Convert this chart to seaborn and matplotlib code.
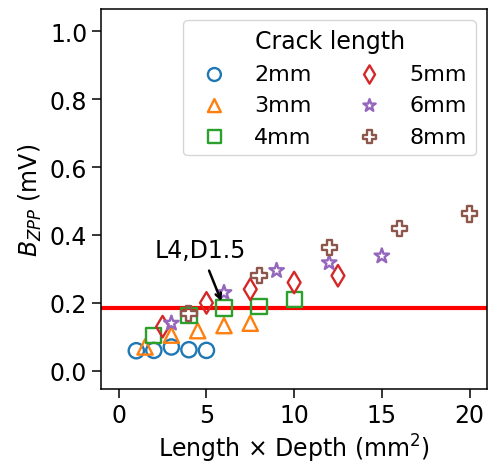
import numpy as np
import pandas as pd
import matplotlib
matplotlib.use("Agg")
import matplotlib.pyplot as plt
import seaborn as sns

# crack lengths and measured B_ZPP values (depths 0.5, 1.0, 1.5, 2.0, 2.5 mm)
labels = ['2mm', '3mm', '4mm', '5mm', '6mm', '8mm']
lengths = [2, 3, 4, 5, 6, 8]
depths = [0.5, 1.0, 1.5, 2.0, 2.5]
bzpp_2mm = [0.059, 0.060, 0.070, 0.062, 0.060]
bzpp_3mm = [0.070, 0.105, 0.118, 0.133, 0.140]
bzpp_4mm = [0.105, 0.162, 0.185, 0.190, 0.210]
bzpp_5mm = [0.130, 0.200, 0.240, 0.260, 0.280]
bzpp_6mm = [0.140, 0.230, 0.295, 0.318, 0.338]
bzpp_8mm = [0.168, 0.280, 0.362, 0.420, 0.462]
threshold = 0.185

markers = ['o', '^', 's', 'd', '*', 'P']
colors = sns.color_palette('tab10', 6)

all_vals = [bzpp_2mm, bzpp_3mm, bzpp_4mm, bzpp_5mm, bzpp_6mm, bzpp_8mm]
rows = []
for lab, L, vals in zip(labels, lengths, all_vals):
    for d, v in zip(depths, vals):
        rows.append({'crack': lab, 'LD': L * d, 'B': v})
df = pd.DataFrame(rows)

plt.rcParams['axes.linewidth'] = 1.1
fig = plt.figure(figsize=(4.89, 4.64), dpi=100)
ax = fig.add_axes([0.207, 0.16, 0.789, 0.818])

for lab, m, c in zip(labels, markers, colors):
    sub = df[df['crack'] == lab]
    sns.scatterplot(data=sub, x='LD', y='B', marker=m, s=120, fc='none',
                    ec=c, linewidth=1.7, label=lab, ax=ax)

ax.axhline(threshold, color='red', lw=3, zorder=0)

# annotation for the L4, D1.5 case
ax.text(2.05, 0.335, 'L4,D1.5', fontsize=17)
ax.annotate('', xy=(5.85, 0.205), xytext=(5.15, 0.295),
            arrowprops=dict(arrowstyle='->', color='black', lw=1.8,
                            shrinkA=0, shrinkB=0))

ax.set_xlim(-1, 21)
ax.set_ylim(-0.053, 1.065)
ax.set_xticks([0, 5, 10, 15, 20])
ax.set_yticks([0.0, 0.2, 0.4, 0.6, 0.8, 1.0])
ax.tick_params(labelsize=17, length=6.5, width=1.1)
ax.set_xlabel(r'Length $\times$ Depth (mm$^2$)', fontsize=17)
ax.set_ylabel(r'$B_{ZPP}$ (mV)', fontsize=17)

ax.legend(title='Crack length', ncol=2, loc='upper right', fontsize=16,
          title_fontsize=17, columnspacing=1.6, markerscale=0.85)

fig.savefig('out.png', dpi=100)
